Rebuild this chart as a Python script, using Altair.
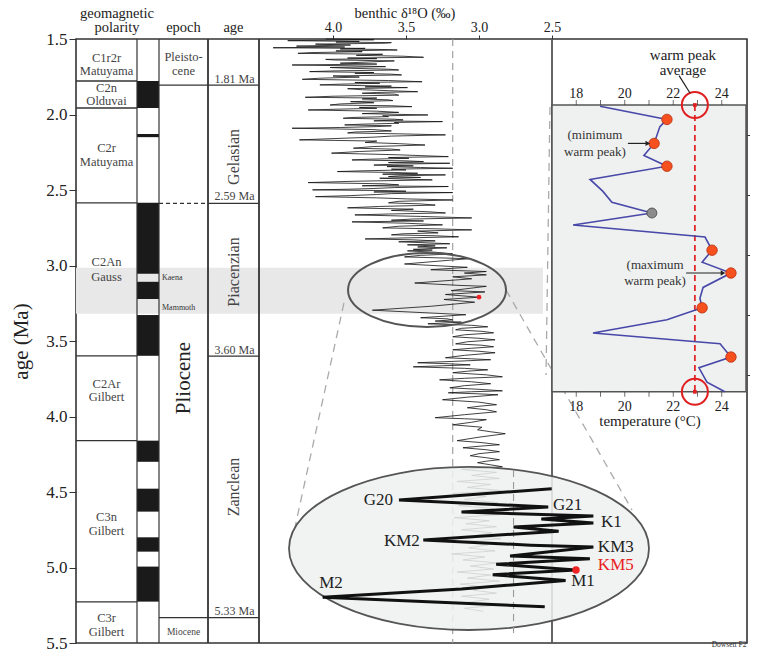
import altair as alt
import pandas as pd

SERIF = "Liberation Serif"
INK = "#222222"

# ---------------- data ----------------
# benthic d18O record: (age Ma, d18O permil)
d18o_pairs = [
    (1.500, 4.05), (1.505, 3.72), (1.511, 4.31), (1.516, 3.82), (1.520, 3.98), (1.524, 3.60), (1.528, 3.64),
    (1.534, 4.12), (1.540, 3.88), (1.547, 4.25), (1.553, 3.92), (1.558, 4.41), (1.562, 3.78), (1.566, 3.95),
    (1.570, 3.62), (1.573, 3.56), (1.579, 3.98), (1.584, 3.80), (1.590, 4.15), (1.595, 4.24), (1.601, 3.66),
    (1.608, 3.84), (1.614, 3.52), (1.621, 3.38), (1.626, 3.90), (1.630, 3.70), (1.635, 4.05), (1.639, 3.99),
    (1.645, 3.58), (1.652, 3.75), (1.660, 3.95), (1.666, 3.70), (1.672, 4.28), (1.678, 3.85), (1.683, 3.64),
    (1.689, 4.02), (1.694, 3.88), (1.700, 3.62), (1.705, 3.55), (1.711, 3.98), (1.716, 4.16), (1.722, 3.72),
    (1.727, 3.85), (1.733, 3.60), (1.738, 3.53), (1.745, 4.00), (1.752, 3.82), (1.760, 4.10), (1.767, 4.21),
    (1.775, 3.62), (1.783, 3.39), (1.788, 3.85), (1.793, 3.68), (1.799, 3.95), (1.804, 4.09), (1.812, 3.60),
    (1.817, 3.78), (1.822, 3.49), (1.829, 3.90), (1.836, 3.80), (1.842, 3.62), (1.849, 3.42), (1.854, 3.70),
    (1.859, 3.80), (1.865, 3.58), (1.872, 3.55), (1.879, 4.00), (1.886, 4.19), (1.891, 3.70), (1.897, 3.80),
    (1.903, 3.62), (1.908, 3.59), (1.915, 3.88), (1.922, 3.72), (1.930, 3.95), (1.937, 4.02), (1.942, 3.60),
    (1.948, 3.46), (1.953, 3.82), (1.959, 3.70), (1.965, 3.98), (1.970, 4.17), (1.978, 3.70), (1.986, 3.55),
    (1.994, 3.80), (2.003, 3.35), (2.009, 3.66), (2.014, 3.62), (2.020, 3.88), (2.025, 3.93), (2.031, 3.58),
    (2.036, 3.52), (2.042, 3.72), (2.047, 3.25), (2.053, 3.58), (2.058, 3.55), (2.064, 3.80), (2.069, 3.92),
    (2.075, 3.60), (2.080, 3.70), (2.086, 3.95), (2.091, 4.28), (2.100, 3.72), (2.109, 3.60), (2.116, 3.85),
    (2.122, 3.90), (2.128, 3.55), (2.135, 3.23), (2.143, 3.60), (2.150, 3.72), (2.159, 3.98), (2.168, 4.23),
    (2.176, 3.70), (2.185, 3.78), (2.193, 3.55), (2.202, 3.37), (2.212, 3.72), (2.223, 3.86), (2.229, 3.60),
    (2.235, 3.54), (2.245, 3.82), (2.256, 4.01), (2.267, 3.55), (2.279, 3.21), (2.285, 3.62), (2.290, 3.48),
    (2.296, 3.75), (2.301, 3.87), (2.307, 3.50), (2.312, 3.38), (2.318, 3.62), (2.323, 3.20), (2.329, 3.58),
    (2.335, 3.72), (2.340, 3.45), (2.345, 3.63), (2.351, 3.40), (2.356, 3.18), (2.362, 3.60), (2.367, 3.50),
    (2.373, 3.80), (2.378, 3.97), (2.384, 3.58), (2.389, 3.42), (2.395, 3.66), (2.400, 3.23), (2.406, 3.55),
    (2.411, 3.62), (2.417, 3.40), (2.422, 3.68), (2.428, 3.50), (2.433, 3.32), (2.442, 3.85), (2.451, 4.17),
    (2.459, 3.65), (2.466, 3.55), (2.472, 3.80), (2.477, 3.21), (2.484, 3.58), (2.490, 3.72), (2.495, 3.90),
    (2.499, 4.14), (2.504, 3.62), (2.508, 3.50), (2.513, 3.72), (2.517, 3.18), (2.524, 3.60), (2.530, 3.70),
    (2.537, 3.88), (2.544, 4.12), (2.552, 3.70), (2.559, 3.49),
    (2.566, 3.18), (2.575, 3.55), (2.585, 3.62), (2.592, 3.40), (2.600, 3.30), (2.609, 3.68), (2.618, 3.90),
    (2.627, 3.45), (2.635, 3.60), (2.644, 3.35), (2.652, 3.23), (2.659, 3.62), (2.665, 3.85), (2.675, 3.40),
    (2.685, 3.05), (2.692, 3.45), (2.700, 3.60), (2.705, 3.38), (2.711, 3.87), (2.720, 3.50), (2.731, 3.25),
    (2.740, 3.55), (2.751, 3.66), (2.757, 3.30), (2.764, 3.05), (2.772, 3.42), (2.778, 3.35), (2.784, 3.28),
    (2.790, 3.52), (2.797, 3.60), (2.803, 3.30), (2.810, 3.14), (2.817, 3.50), (2.824, 3.78), (2.830, 3.45),
    (2.837, 3.30), (2.843, 3.55), (2.850, 3.35), (2.856, 3.20), (2.863, 3.49), (2.870, 3.30), (2.877, 3.42),
    (2.883, 3.22), (2.893, 3.45), (2.898, 3.32), (2.903, 3.49), (2.912, 3.30), (2.923, 3.18), (2.933, 3.40),
    (2.943, 3.51),
    (2.955, 3.07), (2.965, 3.20), (2.990, 3.51), (3.012, 3.08), (3.028, 3.33), (3.040, 2.95), (3.050, 3.10),
    (3.062, 2.95), (3.075, 3.18), (3.088, 3.05), (3.116, 3.44), (3.132, 3.13), (3.138, 2.95), (3.166, 3.19),
    (3.175, 2.96), (3.192, 3.23), (3.210, 3.00), (3.225, 3.24), (3.243, 3.03), (3.270, 3.33), (3.296, 3.73),
    (3.326, 3.09),
    (3.346, 3.40), (3.353, 3.22), (3.360, 3.18), (3.368, 3.30), (3.375, 3.12), (3.386, 3.35), (3.396, 3.05),
    (3.406, 2.94), (3.416, 3.12), (3.426, 3.16), (3.436, 2.98), (3.446, 2.90), (3.459, 3.10), (3.472, 3.18),
    (3.482, 3.00), (3.492, 2.89), (3.505, 3.08), (3.519, 3.16), (3.528, 2.98), (3.538, 2.90), (3.548, 3.05),
    (3.558, 3.18), (3.568, 3.00), (3.578, 2.89), (3.595, 3.10), (3.611, 3.23), (3.618, 3.05), (3.624, 2.92),
    (3.634, 3.15), (3.644, 3.42), (3.651, 3.20), (3.658, 3.06), (3.664, 3.25), (3.671, 3.45), (3.681, 3.10),
    (3.691, 2.94), (3.700, 3.08), (3.710, 3.18), (3.724, 2.95), (3.737, 2.84), (3.747, 3.10), (3.757, 3.27),
    (3.770, 3.05), (3.783, 2.92), (3.796, 3.10), (3.810, 3.20), (3.820, 3.00), (3.830, 2.84), (3.836, 3.05),
    (3.843, 3.21), (3.850, 3.00), (3.856, 2.87), (3.872, 3.08), (3.889, 3.25), (3.905, 3.00), (3.922, 2.88),
    (3.932, 3.00), (3.942, 3.08), (3.955, 2.95), (3.969, 2.88), (3.988, 3.10), (4.008, 3.30), (4.015, 3.10),
    (4.021, 2.95), (4.038, 3.05), (4.055, 3.18), (4.071, 2.98), (4.088, 3.01), (4.101, 2.92), (4.114, 2.82),
    (4.137, 3.00), (4.160, 3.15), (4.173, 2.98), (4.187, 2.86), (4.197, 3.00), (4.207, 3.11), (4.220, 2.95),
    (4.233, 2.86), (4.246, 3.00), (4.260, 3.06), (4.273, 2.95), (4.286, 2.86), (4.296, 2.95), (4.306, 3.01),
    (4.320, 2.92), (4.333, 2.84),
    (4.350, 3.12), (4.370, 2.88), (4.390, 3.05), (4.410, 2.86), (4.430, 3.15), (4.450, 2.92), (4.470, 3.08),
    (4.490, 2.85), (4.510, 3.18), (4.530, 2.95), (4.550, 3.10), (4.570, 2.87), (4.590, 3.14), (4.610, 2.90),
    (4.630, 3.05), (4.650, 2.86), (4.670, 3.17), (4.690, 2.93), (4.710, 3.09), (4.730, 2.88), (4.750, 3.12),
    (4.770, 2.91), (4.790, 3.03), (4.810, 2.85), (4.830, 3.16), (4.850, 2.94), (4.870, 3.07), (4.890, 2.89),
    (4.910, 3.19), (4.930, 2.96), (4.950, 3.11), (4.970, 2.87), (4.990, 3.06), (5.010, 2.90), (5.030, 3.15),
    (5.050, 2.92), (5.070, 3.08), (5.090, 2.86), (5.110, 3.13), (5.130, 2.95), (5.150, 3.04), (5.170, 2.88),
    (5.190, 3.12), (5.210, 2.93), (5.230, 3.07), (5.250, 2.89), (5.270, 3.10), (5.290, 2.97),
]
d18o_age = [a for a, _ in d18o_pairs]
d18o_val = [v for _, v in d18o_pairs]

# geomagnetic polarity: normal (black) intervals
normal_top = [1.778, 2.129, 2.585, 3.108, 3.328, 4.160, 4.478, 4.800, 4.994]
normal_base = [1.957, 2.150, 3.055, 3.222, 3.598, 4.300, 4.630, 4.895, 5.226]
chron_bounds = [1.778, 1.957, 2.585, 3.598, 4.160, 5.228]
chron_code = ["C1r2r", "C2n", "C2r", "C2An", "C2Ar", "C3n", "C3r"]
chron_name = ["Matuyama", "Olduvai", "Matuyama", "Gauss", "Gilbert", "Gilbert", "Gilbert"]
chron_code_age = [1.626, 1.825, 2.222, 2.977, 3.785, 4.666, 5.334]
chron_name_age = [1.712, 1.911, 2.315, 3.076, 3.871, 4.758, 5.427]
subchron_name = ["Kaena", "Mammoth"]
subchron_age = [3.083, 3.281]

epoch_bounds = [1.806, 5.332]
stage_bounds = [2.588, 3.600]
stage_name = ["Gelasian", "Piacenzian", "Zanclean"]
stage_mid = [2.281, 3.043, 4.467]
bound_label = ["1.81 Ma", "2.59 Ma", "3.60 Ma", "5.33 Ma"]
bound_label_age = [1.765, 2.540, 3.560, 5.288]

prism_band = [3.015, 3.320]
d18o_ref = 3.18
km5 = (3.21, 3.00)

# PRISM SST record (inset)
temp_age = [3.026, 3.037, 3.043, 3.057, 3.067, 3.076, 3.087, 3.097, 3.106, 3.115, 3.125, 3.135, 3.146,
            3.156, 3.165, 3.177, 3.186, 3.194, 3.204, 3.215, 3.224, 3.235, 3.244, 3.256, 3.264]
temp_val = [18.98, 21.74, 21.45, 21.21, 20.79, 21.74, 18.57, 19.10, 19.47, 21.12, 17.87, 23.31, 23.60,
            23.19, 24.38, 23.23, 23.10, 23.19, 21.74, 18.69, 23.93, 24.38, 23.06, 23.39, 24.13]
temp_kind = ["", "warm", "", "warm", "", "warm", "", "", "", "other", "", "", "warm",
             "", "warm", "", "", "warm", "", "", "", "warm", "", "", ""]

# zoom panel event labels
event_name = ["G20", "G21", "K1", "KM2", "KM3", "KM5", "M1", "M2"]
event_val = [3.527, 3.066, 2.928, 3.450, 2.937, 2.937, 3.014, 3.706]
event_age = [2.990, 3.006, 3.059, 3.119, 3.138, 3.194, 3.245, 3.251]

# ---------------- scales (layout) ----------------
def S(dom, rev=False):
    return alt.Scale(domain=dom, nice=False, zero=False, reverse=rev)

TRK = S([0, 671])                      # layout track across the frame
BEN = S([1.1644, 5.7603], rev=True)    # benthic d18O (main)
TMP = S([-2.629, 25.041])              # inset temperature
ZX = S([2.5072, 4.4409], rev=True)     # zoomed d18O
AGE = S([1.5, 5.5], rev=True)          # main age
IAG = S([2.970, 3.4733], rev=True)     # inset age
ZY = S([1.5403, 3.4397], rev=True)     # zoomed age

C_NAME, C_BAR, C_EPOCH, C_STAGE, C_BEN, C_INS = (0, 61), (61, 83), (83, 132), (132, 183), (183, 476), (476, 671)

def X(f, sc, **kw):
    return alt.X(f, type="quantitative", scale=sc, axis=kw.pop("axis", None), title=None, **kw)

def Y(f, sc, **kw):
    return alt.Y(f, type="quantitative", scale=sc, axis=kw.pop("axis", None), title=None, **kw)

def rules(df, xs, ys, **mk):
    return alt.Chart(df).mark_rule(**mk).encode(
        x=X("x1", xs), x2="x2", y=Y("y1", ys), y2="y2")

def texts(df, xs, ys, **mk):
    mk.setdefault("font", SERIF)
    mk.setdefault("baseline", "middle")
    mk.setdefault("color", INK)
    return alt.Chart(df).mark_text(**mk).encode(x=X("x", xs), y=Y("y", ys), text="label:N")

layers = []

# shaded PRISM interval
layers.append(alt.Chart(pd.DataFrame({"x1": [C_NAME[0]], "x2": [C_BEN[1] - 9],
                                      "y1": [prism_band[0]], "y2": [prism_band[1]]}))
              .mark_rect(color="#e8e8e8").encode(x=X("x1", TRK), x2="x2", y=Y("y1", AGE), y2="y2"))

# polarity bars
layers.append(alt.Chart(pd.DataFrame({"y1": normal_top, "y2": normal_base,
                                      "x1": C_BAR[0], "x2": C_BAR[1]}))
              .mark_rect(color="#1a1a1a").encode(x=X("x1", TRK), x2="x2", y=Y("y1", AGE), y2="y2"))

# column separators
layers.append(rules(pd.DataFrame({"x1": [C_BAR[0], C_BAR[1]], "x2": [C_BAR[0], C_BAR[1]],
                                  "y1": 1.5, "y2": 5.5}), TRK, AGE, color="#333", strokeWidth=1.2))
layers.append(rules(pd.DataFrame({"x1": [C_EPOCH[1], C_STAGE[1]], "x2": [C_EPOCH[1], C_STAGE[1]],
                                  "y1": 1.5, "y2": 5.5}), TRK, AGE, color="#333", strokeWidth=1.8))
layers.append(rules(pd.DataFrame({"x1": [C_BEN[1]], "x2": [C_BEN[1]], "y1": 1.5, "y2": 5.5}),
                    TRK, AGE, color="#555", strokeWidth=1.8))

# horizontal boundaries
hb = pd.DataFrame({"y1": chron_bounds, "y2": chron_bounds, "x1": C_NAME[0], "x2": C_NAME[1]})
eb = pd.DataFrame({"y1": epoch_bounds, "y2": epoch_bounds, "x1": C_EPOCH[0], "x2": C_STAGE[1]})
sb = pd.DataFrame({"y1": stage_bounds, "y2": stage_bounds, "x1": C_STAGE[0], "x2": C_STAGE[1]})
layers.append(rules(pd.concat([hb, eb, sb]), TRK, AGE, color="#333", strokeWidth=1.3))
layers.append(rules(pd.DataFrame({"y1": [stage_bounds[0]], "y2": [stage_bounds[0]],
                                  "x1": [C_EPOCH[0]], "x2": [C_EPOCH[1]]}),
                    TRK, AGE, color="#333", strokeWidth=1.2, strokeDash=[4, 3]))

# table texts
mid_name = sum(C_NAME) / 2
layers.append(texts(pd.DataFrame({"x": mid_name, "y": chron_code_age + chron_name_age,
                                  "label": chron_code + chron_name}), TRK, AGE,
                    fontSize=12.5, color="#444"))
layers.append(texts(pd.DataFrame({"x": C_BAR[1] + 3, "y": subchron_age, "label": subchron_name}),
                    TRK, AGE, fontSize=8, align="left", color="#333"))
mid_ep = sum(C_EPOCH) / 2
mid_st = sum(C_STAGE) / 2
layers.append(texts(pd.DataFrame({"x": mid_ep, "y": [1.619, 1.712], "label": ["Pleisto-", "cene"]}),
                    TRK, AGE, fontSize=12.5, color="#444"))
layers.append(texts(pd.DataFrame({"x": [mid_ep], "y": [5.427], "label": ["Miocene"]}),
                    TRK, AGE, fontSize=9.5, color="#444"))
layers.append(texts(pd.DataFrame({"x": [mid_ep], "y": [3.745], "label": ["Pliocene"]}),
                    TRK, AGE, fontSize=21, angle=270))
layers.append(texts(pd.DataFrame({"x": mid_st, "y": stage_mid, "label": stage_name}),
                    TRK, AGE, fontSize=16, angle=270, color="#444"))
layers.append(texts(pd.DataFrame({"x": mid_st + 1, "y": bound_label_age, "label": bound_label}),
                    TRK, AGE, fontSize=12, color="#444"))
# headers
layers.append(texts(pd.DataFrame({"x": [41, 41, mid_ep, mid_st], "y": [1.335, 1.427, 1.427, 1.427],
                                  "label": ["geomagnetic", "polarity", "epoch", "age"]}),
                    TRK, AGE, fontSize=14.5))
layers.append(texts(pd.DataFrame({"x": [3.507], "y": [1.3355], "label": ["benthic \u03b4\u00b9\u2078O (\u2030)"]}),
                    BEN, AGE, fontSize=14.5))

# reference line in benthic panel
layers.append(rules(pd.DataFrame({"x1": [d18o_ref], "x2": [d18o_ref], "y1": [1.5], "y2": [5.5]}),
                    BEN, AGE, color="#999", strokeWidth=1.1, strokeDash=[7, 5]))

# main d18O record (with main axes)
main_df = pd.DataFrame({"age": d18o_age, "d18o": d18o_val})
layers.append(alt.Chart(main_df).mark_line(color="#111", strokeWidth=0.8).encode(
    x=X("d18o", BEN, axis=alt.Axis(orient="top", values=[4.0, 3.5, 3.0, 2.5], format=".1f",
                                   tickSize=4, labelFontSize=14, labelPadding=1, domain=False,
                                   grid=False, title=None)),
    y=Y("age", AGE, axis=alt.Axis(orient="left", values=[1.5, 2.0, 2.5, 3.0, 3.5, 4.0, 4.5, 5.0, 5.5],
                                  format=".1f", tickSize=7, labelFontSize=17, labelPadding=2,
                                  domain=False, grid=False, title="age (Ma)", titleFontSize=21,
                                  titleFontWeight="normal", titlePadding=14)),
    order="age:Q"))

# dashed connectors (benthic/age space)
conn = pd.DataFrame({"x1": [3.925, 2.815, 2.514], "x2": [4.260, 1.952, 2.541],
                     "y1": [3.248, 3.162, 1.950], "y2": [4.732, 4.619, 3.725]})
layers.append(rules(conn, BEN, AGE, color="#aaa", strokeWidth=1.3, strokeDash=[8, 6]))

# small ellipse
layers.append(alt.Chart(pd.DataFrame({"x": [3.356], "y": [3.162]})).mark_point(
    shape="M -1 0 A 1 0.468 0 1 1 1 0 A 1 0.468 0 1 1 -1 0 Z", size=24964, filled=False,
    stroke="#555", strokeWidth=2, opacity=1).encode(x=X("x", BEN), y=Y("y", AGE)))
layers.append(alt.Chart(pd.DataFrame({"x": [km5[1]], "y": [km5[0]]})).mark_point(
    filled=True, color="#ee2222", size=22, opacity=1).encode(x=X("x", BEN), y=Y("y", AGE)))

# ---------------- inset ----------------
layers.append(alt.Chart(pd.DataFrame({"x1": [17], "x2": [25], "y1": [3.025], "y2": [3.264]})).mark_rect(
    fill="#eff1f1", stroke="#555", strokeWidth=1.5).encode(x=X("x1", TMP), x2="x2", y=Y("y1", IAG), y2="y2"))
tick_t = [18, 19, 20, 21, 22, 23, 24]
layers.append(alt.Chart(pd.DataFrame({"x": tick_t, "y": 3.025})).mark_tick(
    orient="vertical", size=5, thickness=1, yOffset=-2.5, color="#333").encode(x=X("x", TMP), y=Y("y", IAG)))
layers.append(alt.Chart(pd.DataFrame({"x": tick_t, "y": 3.264})).mark_tick(
    orient="vertical", size=5, thickness=1, yOffset=2.5, color="#333").encode(x=X("x", TMP), y=Y("y", IAG)))
lab_t = [18, 20, 22, 24]
layers.append(texts(pd.DataFrame({"x": lab_t, "y": 3.0158, "label": [str(t) for t in lab_t]}),
                    TMP, IAG, fontSize=14))
layers.append(texts(pd.DataFrame({"x": lab_t, "y": 3.2767, "label": [str(t) for t in lab_t]}),
                    TMP, IAG, fontSize=14))
layers.append(texts(pd.DataFrame({"x": [21.04], "y": [3.288], "label": ["temperature (\u00b0C)"]}),
                    TMP, IAG, fontSize=15))

tdf = pd.DataFrame({"age": temp_age, "temp": temp_val, "kind": temp_kind})
warm_mean = tdf.loc[tdf.kind == "warm", "temp"].mean()
layers.append(rules(pd.DataFrame({"x1": [warm_mean], "x2": [warm_mean], "y1": [3.025], "y2": [3.264]}),
                    TMP, IAG, color="#e02828", strokeWidth=1.8, strokeDash=[6, 4]))
layers.append(alt.Chart(tdf).mark_line(color="#4848a8", strokeWidth=1.6).encode(
    x=X("temp", TMP),
    y=Y("age", IAG, axis=alt.Axis(orient="right", values=[3.05, 3.10, 3.15, 3.20, 3.25], format=".2f",
                                  tickSize=4, labelFontSize=14, labelPadding=1, domain=False,
                                  grid=False, title=None)),
    order="age:Q"))
layers.append(alt.Chart(tdf[tdf.kind == "warm"]).mark_point(
    filled=True, fill="#f5501e", stroke="#b83010", strokeWidth=0.8, size=110, opacity=1).encode(
    x=X("temp", TMP), y=Y("age", IAG)))
layers.append(alt.Chart(tdf[tdf.kind == "other"]).mark_point(
    filled=True, fill="#8c8c8c", stroke="#444", strokeWidth=0.8, size=100, opacity=1).encode(
    x=X("temp", TMP), y=Y("age", IAG)))
layers.append(alt.Chart(pd.DataFrame({"x": [warm_mean, warm_mean], "y": [3.025, 3.264]})).mark_point(
    shape="circle", size=676, filled=False, stroke="#e02020", strokeWidth=2, opacity=1).encode(
    x=X("x", TMP), y=Y("y", IAG)))
layers.append(alt.Chart(pd.DataFrame({"x": [warm_mean, warm_mean], "y": [3.025, 3.264]})).mark_point(
    shape="square", size=14, filled=True, color="#e02020", opacity=1).encode(
    x=X("x", TMP), y=Y("y", IAG)))
# annotations
layers.append(texts(pd.DataFrame({"x": [22.40, 22.40], "y": [2.983, 2.996],
                                  "label": ["warm peak", "average"]}), TMP, IAG, fontSize=15))
layers.append(rules(pd.DataFrame({"x1": [22.24], "x2": [22.69], "y1": [3.0005], "y2": [3.015]}),
                    TMP, IAG, color="#222", strokeWidth=1.2))
layers.append(texts(pd.DataFrame({"x": [18.77, 18.77], "y": [3.050, 3.064],
                                  "label": ["(minimum", "warm peak)"]}), TMP, IAG, fontSize=13, color="#333"))
layers.append(texts(pd.DataFrame({"x": [21.25, 21.25], "y": [3.158, 3.172],
                                  "label": ["(maximum", "warm peak)"]}), TMP, IAG, fontSize=13, color="#333"))
arr = pd.DataFrame({"x1": [20.13, 22.53], "x2": [20.95, 24.05], "y1": [3.057, 3.165], "y2": [3.057, 3.165]})
layers.append(rules(arr, TMP, IAG, color="#222", strokeWidth=1.2))
layers.append(alt.Chart(arr).mark_point(shape="triangle-right", size=28, filled=True, color="#222",
                                        opacity=1).encode(x=X("x2", TMP), y=Y("y1", IAG)))
layers.append(texts(pd.DataFrame({"x": [24.30], "y": [3.4767], "label": ["Dowsett F2"]}),
                    TMP, IAG, fontSize=7.5, color="#333", baseline="alphabetic"))

# ---------------- zoomed view ----------------
layers.append(alt.Chart(pd.DataFrame({"x": [3.0685], "y": [4.874]})).mark_point(
    shape="M -1 0 A 1 0.453 0 1 1 1 0 A 1 0.453 0 1 1 -1 0 Z", size=129600, filled=True,
    fill="#eff0f0", fillOpacity=0.86, stroke="#555", strokeWidth=1.8, opacity=1).encode(
    x=X("x", BEN), y=Y("y", AGE)))
layers.append(rules(pd.DataFrame({"x1": [d18o_ref], "x2": [d18o_ref], "y1": [2.896], "y2": [3.408]}),
                    ZX, ZY, color="#999", strokeWidth=1.1, strokeDash=[7, 5]))
layers.append(alt.Chart(main_df).transform_filter("datum.age >= 2.95 && datum.age <= 3.33").mark_line(
    color="#111", strokeWidth=3).encode(x=X("d18o", ZX), y=Y("age", ZY), order="age:Q"))
layers.append(alt.Chart(pd.DataFrame({"x": [km5[1]], "y": [km5[0]]})).mark_point(
    filled=True, color="#ee2222", size=55, opacity=1).encode(x=X("x", ZX), y=Y("y", ZY)))
ev = pd.DataFrame({"x": event_val, "y": event_age, "label": event_name})
layers.append(texts(ev[ev.label.isin(["G20", "KM2"])], ZX, ZY, fontSize=17, align="right"))
layers.append(texts(ev[ev.label.isin(["G21", "K1", "KM3", "M1"])], ZX, ZY, fontSize=17, align="left"))
layers.append(texts(ev[ev.label == "KM5"], ZX, ZY, fontSize=17, align="left", color="#e82020"))
layers.append(texts(ev[ev.label == "M2"], ZX, ZY, fontSize=17, align="center"))

chart = alt.layer(*layers).resolve_scale(x="independent", y="independent").properties(
    width=671, height=604,
    padding={"left": 68, "top": 31, "right": 3, "bottom": 6},
    autosize=alt.AutoSizeParams(type="none"),
).configure_view(stroke="#333", strokeWidth=1.6).configure_axis(
    labelFont=SERIF, titleFont=SERIF, labelColor=INK, titleColor=INK, tickColor="#333")

chart.save("out.html", embed_options={"renderer": "svg", "actions": False})
